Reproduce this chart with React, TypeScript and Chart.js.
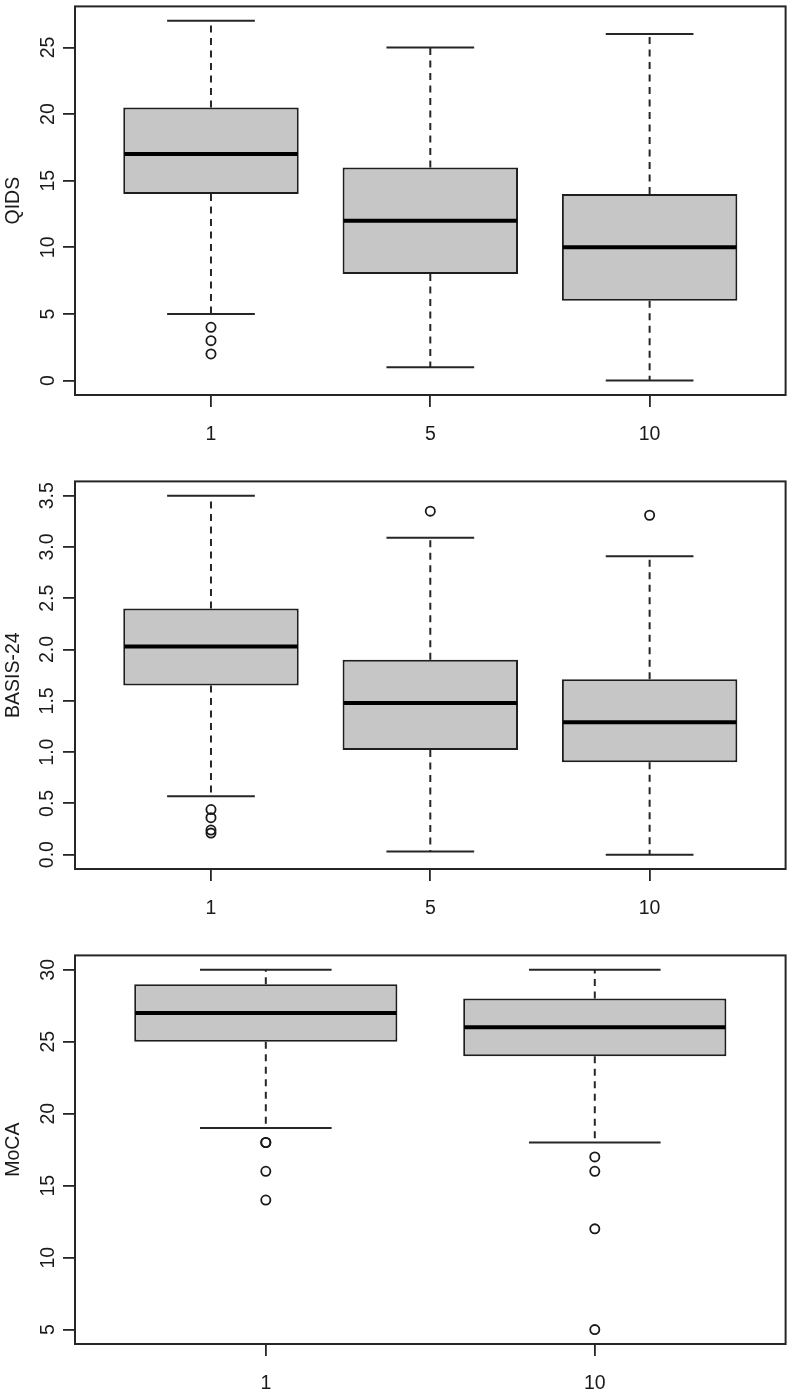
import React, { useEffect, useRef } from "react";
import { Chart, registerables } from "chart.js";

Chart.register(...registerables);

// ---------- Panel 1: QIDS ----------
const qidsGroups = ["1", "5", "10"];
const qidsMin = [5, 1, 0];
const qidsQ1 = [14, 8, 6];
const qidsMedian = [17, 12, 10];
const qidsQ3 = [20.5, 16, 14];
const qidsMax = [27, 25, 26];
const qidsOutliers = [[4, 3, 2], [], []];
const qidsTicks = [0, 5, 10, 15, 20, 25];

// ---------- Panel 2: BASIS-24 ----------
const basisGroups = ["1", "5", "10"];
const basisMin = [0.57, 0.03, 0.0];
const basisQ1 = [1.65, 1.02, 0.9];
const basisMedian = [2.03, 1.48, 1.29];
const basisQ3 = [2.4, 1.9, 1.71];
const basisMax = [3.5, 3.09, 2.91];
const basisOutliers = [[0.44, 0.36, 0.24, 0.21], [3.35], [3.31]];
const basisTicks = [0, 0.5, 1, 1.5, 2, 2.5, 3, 3.5];

// ---------- Panel 3: MoCA ----------
const mocaGroups = ["1", "10"];
const mocaMin = [19, 18];
const mocaQ1 = [25, 24];
const mocaMedian = [27, 26];
const mocaQ3 = [29, 28];
const mocaMax = [30, 30];
const mocaOutliers = [[18, 18, 16, 14], [17, 16, 12, 5]];
const mocaTicks = [5, 10, 15, 20, 25, 30];

type Panel = {
  title: string;
  groups: string[];
  min: number[];
  q1: number[];
  median: number[];
  q3: number[];
  max: number[];
  outliers: number[][];
  ticks: number[];
  decimals: number;
  top: number;
  height: number;
  xAxisHeight: number;
  yTickPadding: number;
};

const FONT = "'Liberation Sans', Arial, Helvetica, sans-serif";
const INK = "#1a1a1a";
const LINE = "#262626";

const panels: Panel[] = [
  {
    title: "QIDS",
    groups: qidsGroups,
    min: qidsMin,
    q1: qidsQ1,
    median: qidsMedian,
    q3: qidsQ3,
    max: qidsMax,
    outliers: qidsOutliers,
    ticks: qidsTicks,
    decimals: 0,
    top: 0,
    height: 465,
    xAxisHeight: 70,
    yTickPadding: 4,
  },
  {
    title: "BASIS-24",
    groups: basisGroups,
    min: basisMin,
    q1: basisQ1,
    median: basisMedian,
    q3: basisQ3,
    max: basisMax,
    outliers: basisOutliers,
    ticks: basisTicks,
    decimals: 1,
    top: 475,
    height: 465,
    xAxisHeight: 71,
    yTickPadding: 2,
  },
  {
    title: "MoCA",
    groups: mocaGroups,
    min: mocaMin,
    q1: mocaQ1,
    median: mocaMedian,
    q3: mocaQ3,
    max: mocaMax,
    outliers: mocaOutliers,
    ticks: mocaTicks,
    decimals: 0,
    top: 949,
    height: 445,
    xAxisHeight: 50,
    yTickPadding: 4,
  },
];

function BoxPanel({ p }: { p: Panel }) {
  const ref = useRef<HTMLCanvasElement>(null);

  useEffect(() => {
    const n = p.groups.length;
    const allVals = [...p.min, ...p.max, ...p.outliers.flat()];
    const dMin = Math.min(...allVals);
    const dMax = Math.max(...allVals);
    const ext = (dMax - dMin) * 0.04;
    const xExt = n * 0.04;

    const boxData = p.groups.map((_, i) => ({ x: i + 1, y: [p.q1[i], p.q3[i]] }));
    const outData: { x: number; y: number }[] = [];
    p.outliers.forEach((arr, i) => arr.forEach((v) => outData.push({ x: i + 1, y: v })));

    const rbox = {
      id: "rbox",
      beforeDatasetsDraw(chart: any) {
        const ctx = chart.ctx;
        const ys = chart.scales.y;
        const meta = chart.getDatasetMeta(0);
        ctx.save();
        ctx.strokeStyle = LINE;
        ctx.lineWidth = 2;
        meta.data.forEach((bar: any, i: number) => {
          const { x, width } = bar.getProps(["x", "width"], true);
          const yMax = ys.getPixelForValue(p.max[i]);
          const yMin = ys.getPixelForValue(p.min[i]);
          const yQ3 = ys.getPixelForValue(p.q3[i]);
          const yQ1 = ys.getPixelForValue(p.q1[i]);
          ctx.setLineDash([7, 5.5]);
          ctx.beginPath();
          ctx.moveTo(x, yQ3);
          ctx.lineTo(x, yMax);
          ctx.moveTo(x, yQ1);
          ctx.lineTo(x, yMin);
          ctx.stroke();
          ctx.setLineDash([]);
          ctx.beginPath();
          ctx.moveTo(x - width / 4, yMax);
          ctx.lineTo(x + width / 4, yMax);
          ctx.moveTo(x - width / 4, yMin);
          ctx.lineTo(x + width / 4, yMin);
          ctx.stroke();
        });
        ctx.restore();
      },
      afterDatasetsDraw(chart: any) {
        const ctx = chart.ctx;
        const ys = chart.scales.y;
        const meta = chart.getDatasetMeta(0);
        ctx.save();
        ctx.strokeStyle = "#000";
        ctx.lineWidth = 4;
        meta.data.forEach((bar: any, i: number) => {
          const { x, width } = bar.getProps(["x", "width"], true);
          const yMed = ys.getPixelForValue(p.median[i]);
          ctx.beginPath();
          ctx.moveTo(x - width / 2 + 1, yMed);
          ctx.lineTo(x + width / 2 - 1, yMed);
          ctx.stroke();
        });
        ctx.restore();
      },
      afterDraw(chart: any) {
        const ctx = chart.ctx;
        const a = chart.chartArea;
        ctx.save();
        ctx.strokeStyle = LINE;
        ctx.lineWidth = 2;
        ctx.strokeRect(a.left, a.top, a.right - a.left, a.bottom - a.top);
        ctx.restore();
      },
    };

    const chart = new Chart(ref.current!, {
      type: "bar",
      data: {
        datasets: [
          {
            type: "bar",
            data: boxData as any,
            backgroundColor: "#c6c6c6",
            borderColor: "#1e1e1e",
            borderWidth: 2,
            borderSkipped: false,
            barPercentage: 0.8,
            categoryPercentage: 1,
            order: 2,
          } as any,
          {
            type: "scatter",
            data: outData as any,
            pointStyle: "circle",
            pointRadius: 4.6,
            pointBorderWidth: 1.8,
            borderColor: "#1a1a1a",
            backgroundColor: "rgba(0,0,0,0)",
            pointBackgroundColor: "rgba(0,0,0,0)",
            pointBorderColor: "#1a1a1a",
            showLine: false,
            order: 1,
          } as any,
        ],
      },
      options: {
        responsive: false,
        maintainAspectRatio: false,
        animation: false,
        events: [],
        layout: { padding: { top: 4, right: 5, left: 0, bottom: 0 } },
        plugins: {
          legend: { display: false },
          tooltip: { enabled: false },
        },
        scales: {
          x: {
            type: "linear",
            min: 0.5 - xExt,
            max: n + 0.5 + xExt,
            offset: false,
            afterBuildTicks: (scale: any) => {
              scale.ticks = p.groups.map((_, i) => ({ value: i + 1 }));
            },
            afterFit: (scale: any) => {
              scale.height = p.xAxisHeight;
              scale.paddingLeft = 0;
              scale.paddingRight = 0;
            },
            grid: {
              display: true,
              offset: false,
              drawOnChartArea: false,
              drawTicks: true,
              tickLength: 12,
              lineWidth: 1.8,
              color: LINE,
            },
            border: { display: false },
            ticks: {
              autoSkip: false,
              maxRotation: 0,
              minRotation: 0,
              padding: 16,
              color: INK,
              font: { family: FONT, size: 19.5 },
              callback: (v: any) => p.groups[Math.round(Number(v)) - 1] ?? "",
            },
          },
          y: {
            type: "linear",
            min: dMin - ext,
            max: dMax + ext,
            beginAtZero: false,
            afterBuildTicks: (scale: any) => {
              scale.ticks = p.ticks.map((v) => ({ value: v }));
            },
            afterFit: (scale: any) => {
              scale.width = 75;
              scale.paddingTop = 0;
              scale.paddingBottom = 0;
            },
            grid: {
              display: true,
              drawOnChartArea: false,
              drawTicks: true,
              tickLength: 12,
              lineWidth: 1.8,
              color: LINE,
            },
            border: { display: false },
            title: {
              display: true,
              text: p.title,
              color: INK,
              font: { family: FONT, size: 19.5, lineHeight: 1.2 },
              padding: { top: 2, bottom: 0 },
            },
            ticks: {
              autoSkip: false,
              minRotation: 90,
              maxRotation: 90,
              crossAlign: "center",
              padding: p.yTickPadding,
              color: INK,
              font: { family: FONT, size: 19.5 },
              callback: (v: any) => Number(v).toFixed(p.decimals),
            },
          },
        },
      } as any,
      plugins: [rbox],
    });
    return () => chart.destroy();
  }, []);

  return (
    <canvas
      ref={ref}
      width={792}
      height={p.height}
      style={{ position: "absolute", left: 0, top: p.top, display: "block" }}
    />
  );
}

export default function App() {
  return (
    <div
      style={{
        position: "absolute",
        left: 0,
        top: 0,
        width: 792,
        height: 1394,
        background: "#fff",
        overflow: "hidden",
      }}
    >
      {panels.map((p) => (
        <BoxPanel key={p.title} p={p} />
      ))}
    </div>
  );
}
